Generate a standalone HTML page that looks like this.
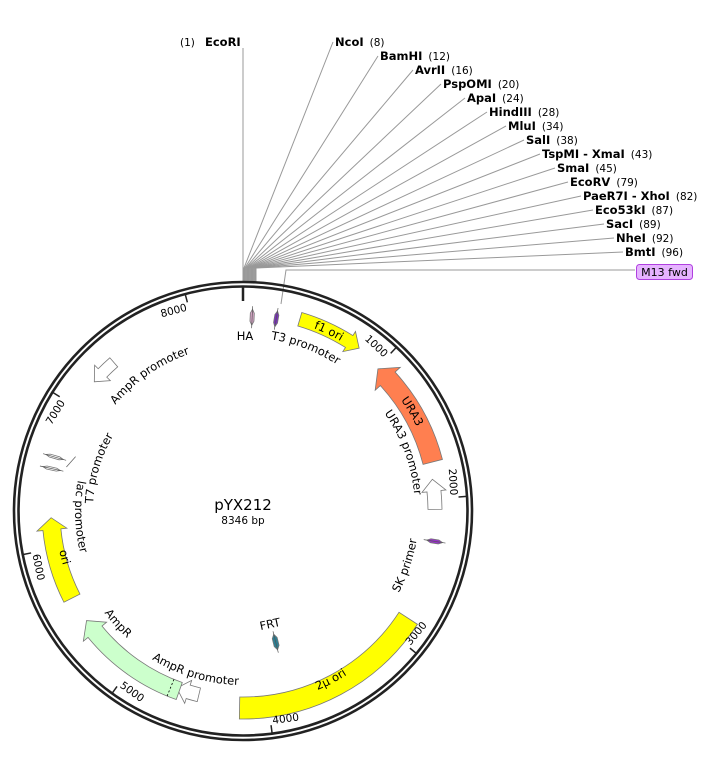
<!DOCTYPE html>
<html><head><meta charset="utf-8">
<style>
html,body{margin:0;padding:0;background:#fff;}
svg{display:block;font-family:"DejaVu Sans","Liberation Sans",sans-serif;}
.en{font-weight:bold;font-size:11.5px;fill:#000;}
.num{font-size:10.5px;fill:#000;}
.fl{font-size:11.5px;fill:#000;}
.tk{font-size:10.5px;fill:#000;}
</style></head>
<body>
<svg id="s" width="727" height="767" viewBox="0 0 727 767" xmlns="http://www.w3.org/2000/svg">
<defs>
<path id="p_t3"/><path id="p_f1"/><path id="p_ura3"/><path id="p_urap"/><path id="p_sk"/><path id="p_2mu"/>
<path id="p_amprp"/><path id="p_ampr"/><path id="p_ori"/><path id="p_lac"/><path id="p_t7"/><path id="p_amprp2"/>
</defs>
<g id="lines" stroke="#999" stroke-width="1" fill="none"></g>
<circle cx="243" cy="511" r="229" fill="none" stroke="#222" stroke-width="2.6"/>
<circle cx="243" cy="511" r="224.5" fill="none" stroke="#222" stroke-width="2.6"/>
<g id="ticks" stroke="#222" stroke-width="1.5"></g>
<g id="feats" stroke="#777" stroke-width="0.8"></g>

<text class="num" x="180" y="46">(1)</text><text class="en" x="205" y="46">EcoRI</text>
<text x="335" y="46"><tspan class="en">NcoI</tspan><tspan class="num" dx="6">(8)</tspan></text>
<text x="380" y="60"><tspan class="en">BamHI</tspan><tspan class="num" dx="6">(12)</tspan></text>
<text x="415" y="74"><tspan class="en">AvrII</tspan><tspan class="num" dx="6">(16)</tspan></text>
<text x="443" y="88"><tspan class="en">PspOMI</tspan><tspan class="num" dx="6">(20)</tspan></text>
<text x="467" y="102"><tspan class="en">ApaI</tspan><tspan class="num" dx="6">(24)</tspan></text>
<text x="489" y="116"><tspan class="en">HindIII</tspan><tspan class="num" dx="6">(28)</tspan></text>
<text x="508" y="130"><tspan class="en">MluI</tspan><tspan class="num" dx="6">(34)</tspan></text>
<text x="526" y="144"><tspan class="en">SalI</tspan><tspan class="num" dx="6">(38)</tspan></text>
<text x="542" y="158"><tspan class="en">TspMI - XmaI</tspan><tspan class="num" dx="6">(43)</tspan></text>
<text x="557" y="172"><tspan class="en">SmaI</tspan><tspan class="num" dx="6">(45)</tspan></text>
<text x="570" y="186"><tspan class="en">EcoRV</tspan><tspan class="num" dx="6">(79)</tspan></text>
<text x="583" y="200"><tspan class="en">PaeR7I - XhoI</tspan><tspan class="num" dx="6">(82)</tspan></text>
<text x="595" y="214"><tspan class="en">Eco53kI</tspan><tspan class="num" dx="6">(87)</tspan></text>
<text x="606" y="228"><tspan class="en">SacI</tspan><tspan class="num" dx="6">(89)</tspan></text>
<text x="616" y="242"><tspan class="en">NheI</tspan><tspan class="num" dx="6">(92)</tspan></text>
<text x="625" y="256"><tspan class="en">BmtI</tspan><tspan class="num" dx="6">(96)</tspan></text>
<rect x="636.5" y="264.5" width="56" height="15" rx="3" fill="#e6b3ff" stroke="#b040e0"/>
<text x="664.5" y="276" text-anchor="middle" style="font-size:11px" fill="#000">M13 fwd</text>

<g id="tlab"></g>

<text class="fl"><textPath href="#p_t3" startOffset="50%" text-anchor="middle">T3 promoter</textPath></text>
<text class="fl"><textPath href="#p_f1" startOffset="50%" text-anchor="middle">f1 ori</textPath></text>
<text class="fl"><textPath href="#p_ura3" startOffset="50%" text-anchor="middle">URA3</textPath></text>
<text class="fl"><textPath href="#p_urap" startOffset="50%" text-anchor="middle">URA3 promoter</textPath></text>
<text class="fl"><textPath href="#p_sk" startOffset="50%" text-anchor="middle">SK primer</textPath></text>
<text class="fl"><textPath href="#p_2mu" startOffset="50%" text-anchor="middle">2μ ori</textPath></text>
<text class="fl"><textPath href="#p_amprp" startOffset="50%" text-anchor="middle">AmpR promoter</textPath></text>
<text class="fl"><textPath href="#p_ampr" startOffset="50%" text-anchor="middle">AmpR</textPath></text>
<text class="fl"><textPath href="#p_ori" startOffset="50%" text-anchor="middle">ori</textPath></text>
<text class="fl"><textPath href="#p_lac" startOffset="50%" text-anchor="middle">lac promoter</textPath></text>
<text class="fl"><textPath href="#p_t7" startOffset="50%" text-anchor="middle">T7 promoter</textPath></text>
<text class="fl"><textPath href="#p_amprp2" startOffset="50%" text-anchor="middle">AmpR promoter</textPath></text>
<text class="fl" x="245" y="340" text-anchor="middle">HA</text>
<text class="fl" x="270" y="628" text-anchor="middle" transform="rotate(-12 270 624)">FRT</text>

<text x="243" y="510" text-anchor="middle" style="font-size:15px">pYX212</text>
<text x="243" y="524" text-anchor="middle" style="font-size:10.5px">8346 bp</text>
</svg>
<script>
(function(){
var NS="http://www.w3.org/2000/svg",cx=243,cy=511;
function P(r,a){var t=a*Math.PI/180;return [cx+r*Math.sin(t),cy-r*Math.cos(t)];}
function f(p){return p[0].toFixed(2)+" "+p[1].toFixed(2);}
function arc(r,a1,a2){var cw=a2>a1,l=Math.abs(a2-a1)>180?1:0;return "A"+r+" "+r+" 0 "+l+" "+(cw?1:0)+" "+f(P(r,a2));}
function el(tag,at,par){var e=document.createElementNS(NS,tag);for(var k in at)e.setAttribute(k,at[k]);par.appendChild(e);return e;}
function setp(id,r,a1,a2){document.getElementById(id).setAttribute("d","M"+f(P(r,a1))+arc(r,a1,a2));}
setp("p_t3",174,7,35);
setp("p_f1",196,15,36);
setp("p_ura3",193,49,70);
setp("p_urap",172,50,90);
setp("p_sk",176,120,97);
setp("p_2mu",194,175,130);
setp("p_amprp",174,213,180);
setp("p_ampr",172,238,218);
setp("p_ori",188,268,243);
setp("p_lac",168,284,252);
setp("p_t7",150,269,304);
setp("p_amprp2",166,305,346);
var tk=document.getElementById("ticks"),tl=document.getElementById("tlab");
var a0=P(224,0),b0=P(210,0);el("line",{x1:a0[0],y1:a0[1],x2:b0[0],y2:b0[1],"stroke-width":2.5},tk);
for(var n=1000;n<=8000;n+=1000){
 var a=n/8346*360,p1=P(224,a),p2=P(216,a);
 el("line",{x1:p1[0],y1:p1[1],x2:p2[0],y2:p2[1]},tk);
 var q=P(217,a),rot,anc;
 if(a<90){rot=a;anc="end";}else if(a<270){rot=a-180;anc="start";}else{rot=a-360;anc="end";}
 var t=el("text",{x:q[0],y:q[1],"class":"tk","text-anchor":anc,transform:"rotate("+rot.toFixed(1)+" "+q[0].toFixed(1)+" "+q[1].toFixed(1)+")",dx:(anc=="end"?-2:2),dy:(a>=90&&a<270?-2:9)},tl);
 t.textContent=String(n);
}
var fg=document.getElementById("feats");
function feat(r,w,s,e,fill,hl,ex){
 var dir=e>s?1:-1,hw=w/2;
 if(hl===undefined)hl=12;
 var hd=hl/r*180/Math.PI;if(hd>Math.abs(e-s))hd=Math.abs(e-s)*0.6;
 var m=hl===0?e:e-dir*hd;if(ex===undefined)ex=w*0.35;
 var d="M"+f(P(r+hw,s))+arc(r+hw,s,m);
 if(hl!==0){d+="L"+f(P(r+hw+ex,m))+"L"+f(P(r,e))+"L"+f(P(r-hw-ex,m))+"L"+f(P(r-hw,m));}
 else d+="L"+f(P(r-hw,e));
 d+=arc(r-hw,m,s)+"Z";
 return el("path",{d:d,fill:fill},fg);
}
// radial small feature: along radius from r1 to r2 at angle a, width w
function rad(a,r1,r2,w,fill,off){
 var t=a*Math.PI/180,ux=Math.sin(t),uy=-Math.cos(t),vx=Math.cos(t),vy=Math.sin(t);
 off=off||0;
 function Q(r,s){return [cx+ux*r+vx*s+ vx*off, cy+uy*r+vy*s+vy*off];}
 var h=4,pts=[Q(r1,0),Q(r1+h,w/2),Q(r2-h,w/2),Q(r2,0),Q(r2-h,-w/2),Q(r1+h,-w/2)];
 var d="M"+pts.map(f).join("L")+"Z";
 el("path",{d:d,fill:fill},fg);
 var a1=Q(r1-3,0),a2=Q(r2+3,0);
 el("line",{x1:a1[0],y1:a1[1],x2:a2[0],y2:a2[1],stroke:"#555","stroke-width":0.7},fg);
}
feat(200,14,16.5,35.5,"#ffff00");
feat(196,20,75.5,43.5,"#ff7f50",14);
feat(192,14,89.5,80.5,"#ffffff",12,5);
rad(99,186,202,4,"#9932cc");
feat(197,22,123,181,"#ffff00",0);
rad(166,127,143,5,"#2b7f94");
feat(189,14,193.5,200.5,"#ffffff",12,5);
feat(191,18,199.5,235,"#ccffcc",14,6);
feat(192,18,243,268,"#ffff00",12,6);
rad(286,187,205,3,"#ffffff");
rad(282.5,187,205,3,"#ffffff");
rad(2.7,186,202,4,"#d8a6c8");
rad(9.8,187,203,4,"#7b2fbe");
feat(197,12,319,311,"#ffffff",12,5);
var d1=P(182,202.3),d2=P(200,202.3);
el("line",{x1:d1[0],y1:d1[1],x2:d2[0],y2:d2[1],stroke:"#000","stroke-dasharray":"2 2"},fg);
var l1=P(182,284),l2=P(176,288);
el("line",{x1:l1[0],y1:l1[1],x2:l2[0],y2:l2[1],stroke:"#666"},fg);
var lg=document.getElementById("lines");
var labs=[[333,42],[378,56],[413,70],[441,84],[465,98],[487,112],[506,126],[524,140],[540,154],[555,168],[568,182],[581,196],[593,210],[604,224],[614,238],[623,252]];
el("line",{x1:243,y1:48,x2:243,y2:282},lg);
for(var i=0;i<labs.length;i++){
 var gx=244+i*0.8;
 el("polyline",{points:gx+",282 "+gx+",268 "+labs[i][0]+","+labs[i][1]},lg);
}
el("polyline",{points:"281,304 286,270 635,270"},lg);
})();
</script>
</body></html>
